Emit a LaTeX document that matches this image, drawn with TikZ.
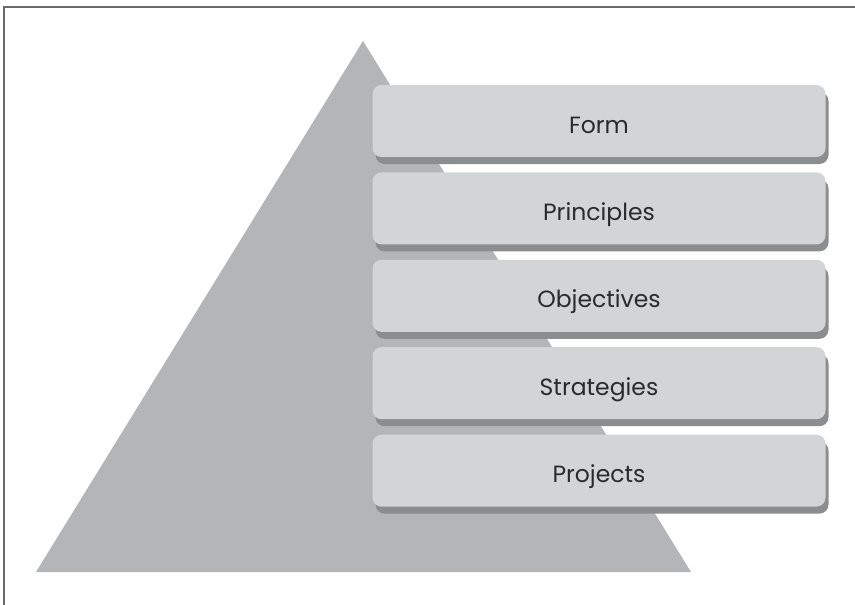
\documentclass[tikz,border=0pt]{standalone}
\usepackage{fontspec}
\setmainfont{Poppins}
\usepackage{xcolor}
\usepackage{tikz}
\usetikzlibrary{positioning,shadows}

\definecolor{pyramidgray}{HTML}{B4B5B7}
\definecolor{boxgray}{HTML}{D3D4D6}
\definecolor{shadowgray}{HTML}{8C8D8F}
\definecolor{framegray}{HTML}{6A6A6A}
\definecolor{textgray}{HTML}{2A2A2A}

\tikzset{
  level/.style={draw=none,fill=boxgray,rounded corners=9pt,
                minimum width=453pt,minimum height=72pt,
                text height=28pt,text depth=4pt,
                font=\fontsize{23.5}{26}\selectfont,text=textgray,
                drop shadow={shadow xshift=3pt,shadow yshift=-7pt,
                             fill=shadowgray,opacity=1}}
}

\begin{document}
\begin{tikzpicture}[x=1pt,y=-1pt]
        \useasboundingbox (0,0) rectangle (855,605);
        \fill[white] (0,0) rectangle (855,605);
        \draw[framegray,line width=1.6pt] (4,610) -- (4,7) -- (860,7);

        % pyramid behind the levels
        \fill[pyramidgray] (363,41) -- (691,572) -- (36,572) -- cycle;

        \node[level] (form) at (599,121) {Form};
        \node[level,below=15pt of form] (principles) {Principles};
        \node[level,below=15pt of principles] (objectives) {Objectives};
        \node[level,below=15pt of objectives] (strategies) {Strategies};
        \node[level,below=15pt of strategies] (projects) {Projects};
    \end{tikzpicture}
\end{document}
